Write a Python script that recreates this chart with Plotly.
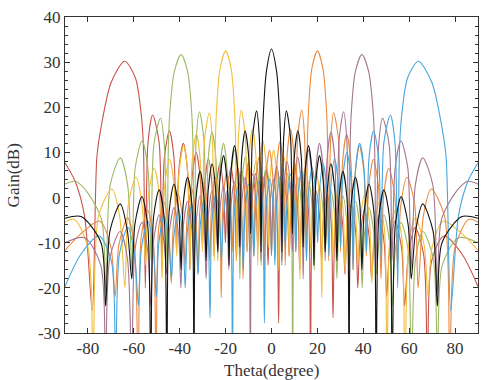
import plotly.graph_objects as go

# ---- data (theta in degrees, gain in dB) ----
th_red = [-90, -85.6, -81.5, -78.1, -76.1, -74.3, -69.9, -64.0, -59.3, -56.7, -55.8, -55.0,
          -53.8, -51.8, -49.0, -47.8, -46.7, -44.5, -42.5, -41.4, -40.4, -38.4, -36.6, -35.6,
          -34.7, -32.8, -31.0, -30.1, -29.2, -27.5, -25.9, -25.0, -24.2, -22.5, -20.9, -20.1,
          -19.3, -17.7, -16.1, -15.3, -14.5, -13.0, -11.4, -10.6, -9.8, -8.3, -6.8, -6.0,
          -5.25, -3.7, -2.25, -1.5, -0.7, 0.8, 2.3, 3.1, 3.9, 5.4, 6.9, 7.7,
          8.5, 10.0, 11.5, 12.3, 13.1, 14.6, 16.2, 17.0, 17.8, 19.4, 21.0, 21.8,
          22.6, 24.3, 26.0, 26.8, 27.7, 29.4, 31.1, 32.0, 32.9, 34.7, 36.7, 37.6,
          38.6, 40.5, 42.6, 43.6, 44.7, 46.8, 49.1, 50.2, 51.5, 53.9, 56.7, 58.0,
          59.7, 62.6, 66.3, 68.0, 69.8, 75.2, 83.0, 90]
g_red = [7.7, 3.6, -4, -25, 9, 15.5, 25.5, 30.2, 26.5, 18, 11, -20,
         12.3, 18.3, 12.3, -14, 8.8, 14.8, 8.8, -12, 6, 12.0, 6, -16,
         4, 10.0, 4, -11, 2.6, 8.6, 2.6, -13, 1.5, 7.5, 1.5, -10,
         0.6, 6.6, 0.6, -14, -0.2, 5.8, -0.2, -12, -0.8, 5.2, -0.8, -11,
         -1.4, 4.6, -1.4, -15, -1.9, 4.1, -1.9, -27.8, -2.4, 3.6, -2.4, -13,
         -3, 3.0, -3, -16, -3.7, 2.3, -3.7, -40, -4.5, 1.5, -4.5, -14,
         -5.4, 0.6, -5.4, -26.6, -6.5, -0.5, -6.5, -17, -7.6, -1.6, -7.6, -20,
         -8.8, -2.8, -8.8, -18, -10, -4.0, -10, -22, -11.2, -5.2, -11.2, -24,
         -12.6, -6.6, -12.6, -40, -14, -8.5, -12.5, -19.7]

th_green = [-90, -85.5, -80.0, -74.0, -72.2,
            -70.3, -65.9, -62.7, -60.8, -59.4, -56.4, -53.9, -52.5, -51.3, -48.4, -46.7, -45.6,
            -44.9, -44.3, -42.4, -39.4, -36.5, -34.8, -34.3, -33.7,
            -32.8, -31.4, -29.5, -28.4, -27.6, -25.9, -24.2, -23.4, -22.6, -20.9, -19.3, -18.5,
            -17.7, -16.1, -14.6, -13.8, -13.0, -11.4, -9.9, -9.1, -8.3, -6.8, -5.3, -4.5,
            -3.75, -2.3, -0.75, 0.0, 0.75, 2.3, 3.85, 4.6, 5.35, 6.9, 8.45, 9.2,
            10.0, 11.5, 13.0, 13.8, 14.6, 16.2, 17.8, 18.6, 19.4, 21.0, 22.6, 23.4,
            24.25, 25.9, 27.65, 28.5, 29.4, 31.1, 32.9, 33.8, 34.75, 36.6, 38.55, 39.5,
            40.5, 42.5, 44.7, 45.7, 46.85, 49.0, 51.45, 52.6, 54.0, 56.5, 59.5, 60.9,
            62.8, 66.0, 70.5, 72.4, 74.4, 81.5, 90]
g_green = [3.0, 3.6, 1.0, -5, -21,
           2.8, 8.8, 2.8, -16, 6.6, 12.6, 6.6, -14, 11.6, 17.6, 11.6, -15,
           12.5, 19, 27.8, 31.7, 27.8, 19, 12.5, -15,
           13, 19.0, 13, -12, 8.5, 14.5, 8.5, -14, 6, 12.0, 6, -11,
           4.5, 10.5, 4.5, -18, 3, 9.0, 3, -12, 2, 8.0, 2, -15,
           1, 7.0, 1, -12.8, 0, 6.0, 0, -14, -0.7, 5.3, -0.7, -40,
           -1.5, 4.5, -1.5, -13, -2.5, 3.5, -2.5, -16, -3.5, 2.5, -3.5, -12,
           -4.5, 1.5, -4.5, -18, -5.6, 0.4, -5.6, -15, -6.8, -0.8, -6.8, -20,
           -8.2, -2.2, -8.2, -17, -9.8, -3.8, -9.8, -24, -11.5, -5.5, -11.5, -40,
           -13.5, -7.5, -13.5, -40, -15, -8.9, -10]

th_yellow = [-90, -86.0, -80.0, -77.7, -75.4, -69.6, -66.2, -63.9,
             -62.4, -59.1, -56.4, -54.9, -53.7, -51.1, -48.9, -47.7,
             -46.6, -44.4, -42.4, -41.3, -40.3, -38.3, -36.5, -35.5,
             -34.6, -32.7, -31.0, -30.1, -29.2, -27.1, -25.8, -24.9,
             -24.4, -23.9, -22.4, -20.0, -17.6, -16.2, -15.7, -15.2,
             -14.4, -13.2, -11.4, -10.6, -9.8, -8.3, -6.8, -6.0,
             -5.2, -3.7, -2.2, -1.4, -0.6, 0.9, 2.4, 3.2,
             3.95, 5.4, 6.95, 7.7, 8.5, 10.0, 11.6, 12.4,
             13.2, 14.7, 16.3, 17.1, 17.9, 19.5, 21.1, 21.9,
             22.7, 24.4, 26.1, 26.9, 27.8, 29.5, 31.2, 32.1,
             33.0, 34.8, 36.7, 37.6, 38.6, 40.6, 42.7, 43.7,
             44.8, 46.9, 49.2, 50.3, 51.6, 54.0, 56.8, 58.1,
             59.8, 62.7, 66.5, 68.2, 70.0, 75.0, 83.0, 90]
g_yellow = [-5.5, -4.8, -11, -40, -4.1, 1.9, -4.1, -20,
            -1.5, 4.5, -1.5, -15, 0.5, 6.5, 0.5, -18,
            2.5, 8.5, 2.5, -13, 5.5, 11.5, 5.5, -16,
            8, 14.0, 8, -12, 12.8, 18.8, 12.8, -14,
            13.3, 20, 28.6, 32.5, 28.6, 20, 13.3, -14,
            13.4, 19.4, 13.4, -12, 9.2, 15.2, 9.2, -15,
            6.5, 12.5, 6.5, -11, 4.5, 10.5, 4.5, -16,
            3, 9.0, 3, -13, 1.8, 7.8, 1.8, -18,
            0.7, 6.7, 0.7, -12, -0.4, 5.6, -0.4, -22.2,
            -1.5, 4.5, -1.5, -14, -2.7, 3.3, -2.7, -17,
            -4, 2.0, -4, -15, -5.4, 0.6, -5.4, -19,
            -7, -1.0, -7, -40, -8.8, -2.8, -8.8, -40,
            -10.5, -4.5, -10.5, -22, -11, -5.2, -8, -11.7]

th_black = [-90, -83.0, -74.3, -72.3, -70.4, -65.9, -62.8, -60.9,
            -59.5, -56.5, -54.0, -52.6, -51.4, -49.0, -46.8, -45.6,
            -44.6, -42.5, -40.4, -39.4, -38.5, -36.6, -34.7, -33.8,
            -32.9, -31.1, -29.4, -28.5, -27.6, -25.9, -24.3, -23.4,
            -22.6, -20.9, -19.3, -18.5, -17.7, -16.1, -14.6, -13.8,
            -13.0, -11.5, -9.9, -9.1, -8.3, -6.5, -5.3, -4.55,
            -4.0, -3.4, -2.2, 0, 2.2, 3.4, 4.0,
            4.55, 5.3, 6.5, 8.3, 9.1, 9.9, 11.5, 13.0,
            13.8, 14.6, 16.1, 17.7, 18.5, 19.3, 20.9, 22.6,
            23.4, 24.3, 25.9, 27.6, 28.5, 29.4, 31.1, 32.9,
            33.8, 34.7, 36.6, 38.5, 39.4, 40.4, 42.5, 44.6,
            45.6, 46.8, 49.0, 51.4, 52.6, 54.0, 56.5, 59.5,
            60.9, 62.8, 65.9, 70.4, 72.3, 74.3, 83.0, 90]
g_black = [-4.6, -4.2, -10, -24, -7.4, -1.4, -7.4, -18,
           -5.8, 0.2, -5.8, -40, -4.3, 1.7, -4.3, -40,
           -3, 3.0, -3, -16, -1.5, 4.5, -1.5, -40,
           -0.2, 5.8, -0.2, -14, 1.5, 7.5, 1.5, -12,
           3.3, 9.3, 3.3, -15, 5.5, 11.5, 5.5, -11,
           8.8, 14.8, 8.8, -8, 13.2, 19.2, 13.2, -12,
           12, 20, 28, 32.9, 28, 20, 12,
           -12, 13.2, 19.2, 13.2, -8, 8.8, 14.8, 8.8,
           -11, 5.5, 11.5, 5.5, -15, 3.3, 9.3, 3.3,
           -12, 1.5, 7.5, 1.5, -14, -0.2, 5.8, -0.2,
           -40, -1.5, 4.5, -1.5, -16, -3, 3.0, -3,
           -40, -4.3, 1.7, -4.3, -40, -5.8, 0.2, -5.8,
           -18, -7.4, -1.4, -7.4, -24, -10, -4.2, -4.6]

th_orange = [-90, -83.0, -75.0, -70.0, -68.2, -66.5, -62.7, -59.8,
             -58.1, -56.8, -54.0, -51.6, -50.3, -49.2, -46.9, -44.8,
             -43.7, -42.7, -40.6, -38.6, -37.6, -36.7, -34.8, -33.0,
             -32.1, -31.2, -29.5, -27.8, -26.9, -26.1, -24.4, -22.7,
             -21.9, -21.1, -19.5, -17.9, -17.1, -16.3, -14.7, -13.2,
             -12.4, -11.6, -10.0, -8.5, -7.7, -6.95, -5.4, -3.95,
             -3.2, -2.4, -0.9, 0.6, 1.4, 2.2, 3.7, 5.2,
             6.0, 6.8, 8.3, 9.8, 10.6, 11.4, 13.2, 14.4,
             15.2, 15.7, 16.2, 17.6, 20.0, 22.4, 23.9, 24.4,
             24.9, 25.8, 27.1, 29.2, 30.1, 31.0, 32.7, 34.6,
             35.5, 36.5, 38.3, 40.3, 41.3, 42.4, 44.4, 46.6,
             47.7, 48.9, 51.1, 53.7, 54.9, 56.4, 59.1, 62.4,
             63.9, 66.2, 69.6, 75.4, 77.7, 80.0, 86.0, 90]
g_orange = [-11.7, -8, -5.2, -11, -22, -10.5, -4.5, -10.5,
            -40, -8.8, -2.8, -8.8, -40, -7, -1.0, -7,
            -19, -5.4, 0.6, -5.4, -15, -4, 2.0, -4,
            -17, -2.7, 3.3, -2.7, -14, -1.5, 4.5, -1.5,
            -22.2, -0.4, 5.6, -0.4, -12, 0.7, 6.7, 0.7,
            -18, 1.8, 7.8, 1.8, -13, 3, 9.0, 3,
            -16, 4.5, 10.5, 4.5, -11, 6.5, 12.5, 6.5,
            -15, 9.2, 15.2, 9.2, -12, 13.4, 19.4, 13.4,
            -14, 13.3, 20, 28.6, 32.5, 28.6, 20, 13.3,
            -14, 12.8, 18.8, 12.8, -12, 8, 14.0, 8,
            -16, 5.5, 11.5, 5.5, -13, 2.5, 8.5, 2.5,
            -18, 0.5, 6.5, 0.5, -15, -1.5, 4.5, -1.5,
            -20, -4.1, 1.9, -4.1, -40, -11, -4.8, -5.5]

th_purple = [-90, -81.5, -74.4,
             -72.4, -70.5, -66.0, -62.8, -60.9, -59.5, -56.5, -54.0,
             -52.6, -51.45, -49.0, -46.85, -45.7, -44.7, -42.5, -40.5,
             -39.5, -38.55, -36.6, -34.75, -33.8, -32.9, -31.1, -29.4,
             -28.5, -27.65, -25.9, -24.25, -23.4, -22.6, -21.0, -19.4,
             -18.6, -17.8, -16.2, -14.6, -13.8, -13.0, -11.5, -10.0,
             -9.2, -8.45, -6.9, -5.35, -4.6, -3.85, -2.3, -0.75,
             0.0, 0.75, 2.3, 3.75, 4.5, 5.3, 6.8, 8.3,
             9.1, 9.9, 11.4, 13.0, 13.8, 14.6, 16.1, 17.7,
             18.5, 19.3, 20.9, 22.6, 23.4, 24.2, 25.9, 27.6,
             28.4, 29.5, 31.4, 32.8,
             33.7, 34.3, 34.8, 36.5, 39.4, 42.4, 44.3, 44.9,
             45.6, 46.7, 48.4, 51.3, 52.5, 53.9, 56.4, 59.4,
             60.8, 62.7, 65.9, 70.3, 72.2, 74.0, 80.0, 85.5, 90]
g_purple = [-10, -8.9, -15,
            -40, -13.5, -7.5, -13.5, -40, -11.5, -5.5, -11.5,
            -24, -9.8, -3.8, -9.8, -17, -8.2, -2.2, -8.2,
            -20, -6.8, -0.8, -6.8, -15, -5.6, 0.4, -5.6,
            -18, -4.5, 1.5, -4.5, -12, -3.5, 2.5, -3.5,
            -16, -2.5, 3.5, -2.5, -13, -1.5, 4.5, -1.5,
            -40, -0.7, 5.3, -0.7, -14, 0, 6.0, 0,
            -12.8, 1, 7.0, 1, -15, 2, 8.0, 2,
            -12, 3, 9.0, 3, -18, 4.5, 10.5, 4.5,
            -11, 6, 12.0, 6, -14, 8.5, 14.5, 8.5,
            -12, 13, 19.0, 13,
            -15, 12.5, 19, 27.8, 31.7, 27.8, 19, 12.5,
            -15, 11.6, 17.6, 11.6, -14, 6.6, 12.6, 6.6,
            -16, 2.8, 8.8, 2.8, -21, -5, 1.0, 3.6, 3.0]

th_blue = [-90, -83.0, -75.2, -69.8,
           -68.0, -66.3, -62.6, -59.7, -58.0, -56.7, -53.9, -51.5,
           -50.2, -49.1, -46.8, -44.7, -43.6, -42.6, -40.5, -38.6,
           -37.6, -36.7, -34.7, -32.9, -32.0, -31.1, -29.4, -27.7,
           -26.8, -26.0, -24.3, -22.6, -21.8, -21.0, -19.4, -17.8,
           -17.0, -16.2, -14.6, -13.1, -12.3, -11.5, -10.0, -8.5,
           -7.7, -6.9, -5.4, -3.9, -3.1, -2.3, -0.8, 0.7,
           1.5, 2.25, 3.7, 5.25, 6.0, 6.8, 8.3, 9.8,
           10.6, 11.4, 13.0, 14.5, 15.3, 16.1, 17.7, 19.3,
           20.1, 20.9, 22.5, 24.2, 25.0, 25.9, 27.5, 29.2,
           30.1, 31.0, 32.8, 34.7, 35.6, 36.6, 38.4, 40.4,
           41.4, 42.5, 44.5, 46.7, 47.8, 49.0, 51.8, 53.8,
           55.0, 55.8, 56.7, 59.3, 64.0, 69.9, 74.3, 76.1, 78.1, 81.5, 85.6, 90]
g_blue = [-19.7, -12.5, -8.5, -14,
          -40, -12.6, -6.6, -12.6, -24, -11.2, -5.2, -11.2,
          -22, -10, -4.0, -10, -18, -8.8, -2.8, -8.8,
          -20, -7.6, -1.6, -7.6, -17, -6.5, -0.5, -6.5,
          -26.6, -5.4, 0.6, -5.4, -14, -4.5, 1.5, -4.5,
          -40, -3.7, 2.3, -3.7, -16, -3, 3.0, -3,
          -13, -2.4, 3.6, -2.4, -27.8, -1.9, 4.1, -1.9,
          -15, -1.4, 4.6, -1.4, -11, -0.8, 5.2, -0.8,
          -12, -0.2, 5.8, -0.2, -14, 0.6, 6.6, 0.6,
          -10, 1.5, 7.5, 1.5, -13, 2.6, 8.6, 2.6,
          -11, 4, 10.0, 4, -16, 6, 12.0, 6,
          -12, 8.8, 14.8, 8.8, -14, 12.3, 18.3, 12.3,
          -20, 11, 18, 26.5, 30.2, 25.5, 15.5, 9, -25, -4, 3.6, 7.7]

series = [
    ("-64", th_red, g_red, "#C9534C"),
    ("-40", th_green, g_green, "#9DB865"),
    ("-20", th_yellow, g_yellow, "#F4BE3A"),
    ("20", th_orange, g_orange, "#EC8A3E"),
    ("40", th_purple, g_purple, "#A3768F"),
    ("64", th_blue, g_blue, "#47A6DE"),
    ("0", th_black, g_black, "#111111"),
]

x_ticks = [-80, -60, -40, -20, 0, 20, 40, 60, 80]
x_ticktext = ["-80", "-60", "-40", "-20", "0", "20", "40", "60", "80"]
y_ticks = [-30, -20, -10, 0, 10, 20, 30, 40]
y_ticktext = ["-30", "-20", "-10", "0", "10", "20", "30", "40"]

fig = go.Figure()
for name, th, g, col in series:
    fig.add_trace(go.Scatter(x=th, y=g, mode="lines", name=name,
                             line=dict(color=col, width=1.1, shape="spline", smoothing=0.8),
                             hoverinfo="skip"))

axis_col = "#333333"
fig.update_layout(
    width=504, height=380,
    margin=dict(l=65, r=26, t=8, b=47),
    plot_bgcolor="white", paper_bgcolor="white",
    showlegend=False,
    font=dict(family="Liberation Serif", size=17, color=axis_col),
    xaxis=dict(range=[-90, 90], tickvals=x_ticks, ticktext=x_ticktext, ticks="inside", ticklen=5,
               tickcolor=axis_col, showline=True, linecolor=axis_col, linewidth=1,
               mirror="ticks", showgrid=False, zeroline=False),
    yaxis=dict(range=[-30, 40], tickvals=y_ticks, ticktext=y_ticktext, ticks="inside", ticklen=5,
               tickcolor=axis_col, showline=True, linecolor=axis_col, linewidth=1,
               mirror="ticks", showgrid=False, zeroline=False, ticklabeloverflow="allow",
               minor=dict(dtick=2, ticks="inside", ticklen=3, tickcolor=axis_col)),
    annotations=[
        dict(text="Theta(degree)", xref="paper", yref="paper", x=0.5, y=-0.118,
             xanchor="center", yanchor="middle", showarrow=False,
             font=dict(family="Liberation Serif", size=17, color=axis_col)),
        dict(text="Gain(dB)", xref="paper", yref="paper", x=-0.125, y=0.5,
             xanchor="center", yanchor="middle", textangle=-90, showarrow=False,
             font=dict(family="Liberation Serif", size=17, color=axis_col)),
    ],
)

fig.write_html("out.html")
